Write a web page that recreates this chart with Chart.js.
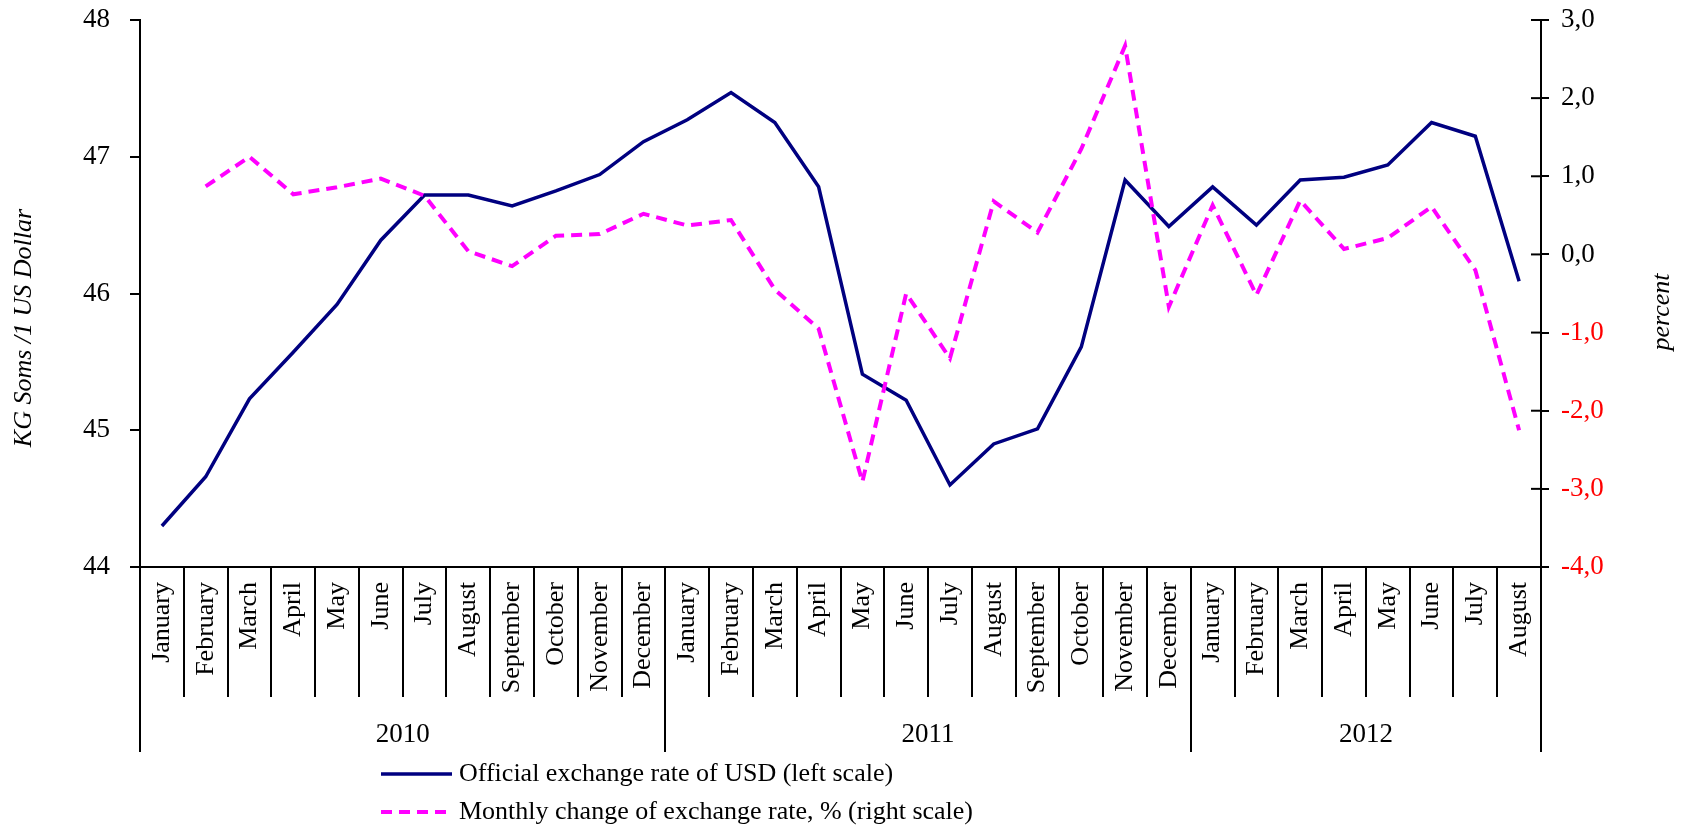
<!DOCTYPE html>
<html>
<head>
<meta charset="utf-8">
<script src="https://cdn.jsdelivr.net/npm/chart.js@4.4.1/dist/chart.umd.min.js"></script>
<style>
  html, body { margin: 0; padding: 0; background: #fff; }
  canvas { display: block; }
</style>
</head>
<body>
<canvas id="c" width="1690" height="831"></canvas>
<script>
// ---- data ----
const monthLabels = [
  'January','February','March','April','May','June','July','August','September','October','November','December',
  'January','February','March','April','May','June','July','August','September','October','November','December',
  'January','February','March','April','May','June','July','August'
];
const yearLabels = ['2010', '2011', '2012'];
const yearMonthCounts = [12, 12, 8];
const usdRate = [
  44.30, 44.66, 45.23, 45.57, 45.92, 46.39, 46.72, 46.72, 46.64, 46.75, 46.87, 47.11,
  47.27, 47.47, 47.25, 46.78, 45.41, 45.22, 44.60, 44.90, 45.01, 45.61, 46.83, 46.49,
  46.78, 46.50, 46.83, 46.85, 46.94, 47.25, 47.15, 46.09
];
const monthlyChange = [
  null, 0.87, 1.25, 0.77, 0.86, 0.97, 0.75, 0.04, -0.15, 0.24, 0.26, 0.52,
  0.37, 0.44, -0.45, -0.95, -2.91, -0.50, -1.33, 0.68, 0.28, 1.35, 2.67, -0.67,
  0.63, -0.52, 0.69, 0.07, 0.21, 0.61, -0.20, -2.25
];
const leftTickValues = [44, 45, 46, 47, 48];
const rightTickValues = [-4, -3, -2, -1, 0, 1, 2, 3];
const seriesNames = [
  'Official exchange rate of USD (left scale)',
  'Monthly change of exchange rate, % (right scale)'
];
const leftAxisTitle = 'KG Soms /1 US Dollar';
const rightAxisTitle = 'percent';

// ---- styling ----
const FONT = "'Liberation Serif', 'Times New Roman', serif";
Chart.defaults.font.family = FONT;
Chart.defaults.color = '#000';

const fmt = v => v.toFixed(1).replace('.', ',');
const noPad = s => { s.paddingTop = 0; s.paddingBottom = 0; s.paddingLeft = 0; s.paddingRight = 0; };

const decor = {
  id: 'decor',
  afterDraw(chart) {
    const { ctx } = chart;
    const x = chart.scales.x, y1 = chart.scales.y1;
    ctx.save();
    ctx.strokeStyle = '#000';
    ctx.lineWidth = 2;
    const axisY = x.top;
    // category separators (months short, years long)
    const bounds = [0];
    let acc = 0;
    yearMonthCounts.forEach(c => { acc += c; bounds.push(acc); });
    for (let k = 0; k <= monthLabels.length; k++) {
      const px = Math.round(x.getPixelForValue(k - 0.5));
      const len = bounds.includes(k) ? 185 : 130;
      ctx.beginPath();
      ctx.moveTo(px, axisY);
      ctx.lineTo(px, axisY + len);
      ctx.stroke();
    }
    // inner ticks on the right axis
    y1.ticks.forEach(t => {
      const py = y1.getPixelForValue(t.value);
      ctx.beginPath();
      ctx.moveTo(y1.left - 10, py);
      ctx.lineTo(y1.left, py);
      ctx.stroke();
    });
    // year labels
    ctx.fillStyle = '#000';
    ctx.font = '27px ' + FONT;
    ctx.textAlign = 'center';
    ctx.textBaseline = 'middle';
    yearLabels.forEach((lab, i) => {
      const a = x.getPixelForValue(bounds[i] - 0.5);
      const b = x.getPixelForValue(bounds[i + 1] - 0.5);
      ctx.fillText(lab, (a + b) / 2, axisY + 168);
    });
    // axis titles
    ctx.font = 'italic 26px ' + FONT;
    ctx.save();
    ctx.translate(24, 328);
    ctx.rotate(-Math.PI / 2);
    ctx.fillText(leftAxisTitle, 0, 0);
    ctx.restore();
    ctx.save();
    ctx.translate(1662, 312);
    ctx.rotate(-Math.PI / 2);
    ctx.fillText(rightAxisTitle, 0, 0);
    ctx.restore();
    // legend
    ctx.font = '26px ' + FONT;
    ctx.textAlign = 'left';
    const rows = [774, 812];
    chart.data.datasets.forEach((ds, i) => {
      const ry = rows[i];
      ctx.save();
      ctx.strokeStyle = ds.borderColor;
      ctx.lineWidth = ds.borderWidth;
      ctx.setLineDash(ds.borderDash || []);
      ctx.beginPath();
      ctx.moveTo(381, ry);
      ctx.lineTo(452, ry);
      ctx.stroke();
      ctx.restore();
      ctx.fillStyle = '#000';
      ctx.fillText(ds.label, 459, ry);
    });
    ctx.restore();
  }
};

new Chart(document.getElementById('c'), {
  type: 'line',
  data: {
    labels: monthLabels,
    datasets: [
      {
        label: seriesNames[0],
        data: usdRate,
        yAxisID: 'y',
        borderColor: '#000080',
        borderWidth: 3.5,
        pointRadius: 0,
        tension: 0,
        order: 1
      },
      {
        label: seriesNames[1],
        data: monthlyChange,
        yAxisID: 'y1',
        borderColor: '#FF00FF',
        borderWidth: 4,
        borderDash: [11, 7],
        pointRadius: 0,
        tension: 0,
        order: 0
      }
    ]
  },
  options: {
    responsive: false,
    animation: false,
    devicePixelRatio: 1,
    layout: { padding: { top: 20, left: 0, right: 0, bottom: 0 } },
    plugins: { legend: { display: false }, tooltip: { enabled: false } },
    scales: {
      x: {
        type: 'category',
        offset: true,
        grid: { display: false, drawTicks: false, drawOnChartArea: false },
        border: { display: true, color: '#000', width: 2 },
        ticks: {
          autoSkip: false, maxRotation: 90, minRotation: 90, padding: 15,
          color: '#000', font: { size: 26 }
        },
        afterFit: s => { s.height = 264; noPad(s); }
      },
      y: {
        position: 'left',
        min: 44, max: 48,
        afterBuildTicks: s => { s.ticks = leftTickValues.map(v => ({ value: v })); },
        grid: { drawOnChartArea: false, drawTicks: true, tickLength: 10, color: '#000', lineWidth: 2 },
        border: { display: true, color: '#000', width: 2 },
        ticks: { padding: 20, color: '#000', font: { size: 27 }, callback: v => String(v) },
        afterFit: s => { s.width = 140; noPad(s); }
      },
      y1: {
        position: 'right',
        min: -4, max: 3,
        afterBuildTicks: s => { s.ticks = rightTickValues.map(v => ({ value: v })); },
        grid: { drawOnChartArea: false, drawTicks: true, tickLength: 8, color: '#000', lineWidth: 2 },
        border: { display: true, color: '#000', width: 2 },
        ticks: {
          padding: 12, font: { size: 27 },
          color: c => (c.tick && c.tick.value < 0) ? '#FF0000' : '#000000',
          callback: v => fmt(v)
        },
        afterFit: s => { s.width = 149; noPad(s); }
      }
    }
  },
  plugins: [decor]
});
</script>
</body>
</html>
